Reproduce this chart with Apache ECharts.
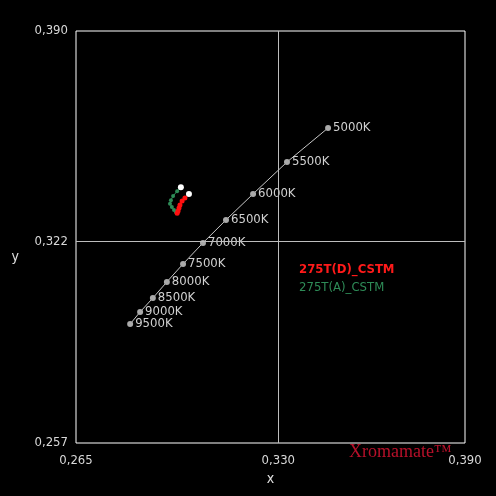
<!DOCTYPE html>
<html>
<head>
<meta charset="utf-8">
<script src="https://cdn.jsdelivr.net/npm/echarts@6/dist/echarts.min.js"></script>
<style>html,body{margin:0;padding:0;background:#000;}#c{width:496px;height:496px;}</style>
</head>
<body>
<div id="c"></div>
<script>
var xTicks = [0.265, 0.330, 0.390];
var yTicks = [0.257, 0.322, 0.390];
var bbLabels = ['5000K','5500K','6000K','6500K','7000K','7500K','8000K','8500K','9000K','9500K'];
var bbX = [0.3460, 0.3328, 0.3219, 0.3132, 0.3058, 0.2994, 0.2942, 0.2897, 0.2856, 0.2824];
var bbY = [0.3587, 0.3477, 0.3374, 0.3290, 0.3216, 0.3148, 0.3090, 0.3038, 0.2993, 0.2954];
var greenName = '275T(A)_CSTM';
var greenX = [0.2987, 0.2975, 0.2962, 0.2955, 0.2952, 0.2958, 0.2965, 0.2971];
var greenY = [0.3396, 0.3383, 0.3367, 0.3354, 0.3342, 0.3332, 0.3322, 0.3316];
var redName = '275T(D)_CSTM';
var redX = [0.3013, 0.3000, 0.2991, 0.2984, 0.2981, 0.2978, 0.2975];
var redY = [0.3374, 0.3361, 0.3351, 0.3338, 0.3329, 0.3319, 0.3312];

var FONT = '"Liberation Sans Narrow","DejaVu Sans Condensed","Liberation Sans",sans-serif';
function fmt(v){ return v.toFixed(3).replace('.', ','); }
function pts(xs, ys){ return xs.map(function(x,i){ return [x, ys[i]]; }); }
function track(xs, ys, color, size){
  return pts(xs, ys).map(function(p, i){
    return i === 0 ? {value: p, symbolSize: 6, itemStyle: {color: '#fff'}} : {value: p, symbolSize: size, itemStyle: {color: color}};
  });
}
var chart = echarts.init(document.getElementById('c'));
chart.setOption({
  backgroundColor: '#000',
  animation: false,
  grid: {left: 76, top: 31, right: 31, bottom: 53, show: true, borderColor: '#fff', borderWidth: 1, backgroundColor: 'transparent'},
  xAxis: {
    type: 'value', min: 0.265, max: 0.390,
    name: 'x', nameLocation: 'middle', nameGap: 28,
    nameTextStyle: {color: '#e0e0e0', fontSize: 14, fontFamily: FONT},
    axisLine: {show: false}, axisTick: {show: false}, splitLine: {show: false},
    axisLabel: {customValues: xTicks, formatter: fmt, color: '#d8d8d8', fontSize: 13, fontFamily: FONT, margin: 11}
  },
  yAxis: {
    type: 'value', min: 0.257, max: 0.390,
    name: '\ny', nameLocation: 'middle', nameGap: 57, nameRotate: 0,
    nameTextStyle: {color: '#e0e0e0', fontSize: 14, fontFamily: FONT, lineHeight: 40},
    axisLine: {show: false}, axisTick: {show: false}, splitLine: {show: false},
    axisLabel: {customValues: yTicks, formatter: fmt, color: '#d8d8d8', fontSize: 13, fontFamily: FONT, margin: 8}
  },
  series: [
    {
      type: 'line', name: 'blackbody', data: pts(bbX, bbY),
      symbol: 'circle', symbolSize: 6,
      lineStyle: {color: '#c8c8c8', width: 1},
      itemStyle: {color: '#aaaaaa'},
      label: {show: true, position: 'right', distance: 2, color: '#d0d0d0', fontSize: 13, fontFamily: FONT,
        formatter: function(p){ return bbLabels[p.dataIndex]; }},
      markLine: {
        silent: true, symbol: 'none', precision: 4, label: {show: false},
        lineStyle: {color: '#bdbdbd', width: 1, type: 'solid'},
        data: [{xAxis: xTicks[1]}, {yAxis: yTicks[1]}]
      },
      z: 3
    },
    {
      type: 'line', name: greenName, data: track(greenX, greenY, '#2e8b57', 4),
      symbol: 'circle', lineStyle: {color: '#2e8b57', width: 1}, z: 4
    },
    {
      type: 'line', name: redName, data: track(redX, redY, '#ff1010', 5),
      symbol: 'circle', lineStyle: {color: '#ff1010', width: 1}, z: 5
    }
  ],
  graphic: [
    {type: 'text', left: 299, top: 263, style: {text: redName, fill: '#ff1a1a', font: 'bold 13px ' + FONT}},
    {type: 'text', left: 299, top: 281, style: {text: greenName, fill: '#2e8b57', font: '13px ' + FONT}},
    {type: 'text', left: 349, top: 443, style: {text: 'Xromamate™', fill: '#b8102a', font: '18px "Liberation Serif","DejaVu Serif",serif'}}
  ]
});
</script>
</body>
</html>
